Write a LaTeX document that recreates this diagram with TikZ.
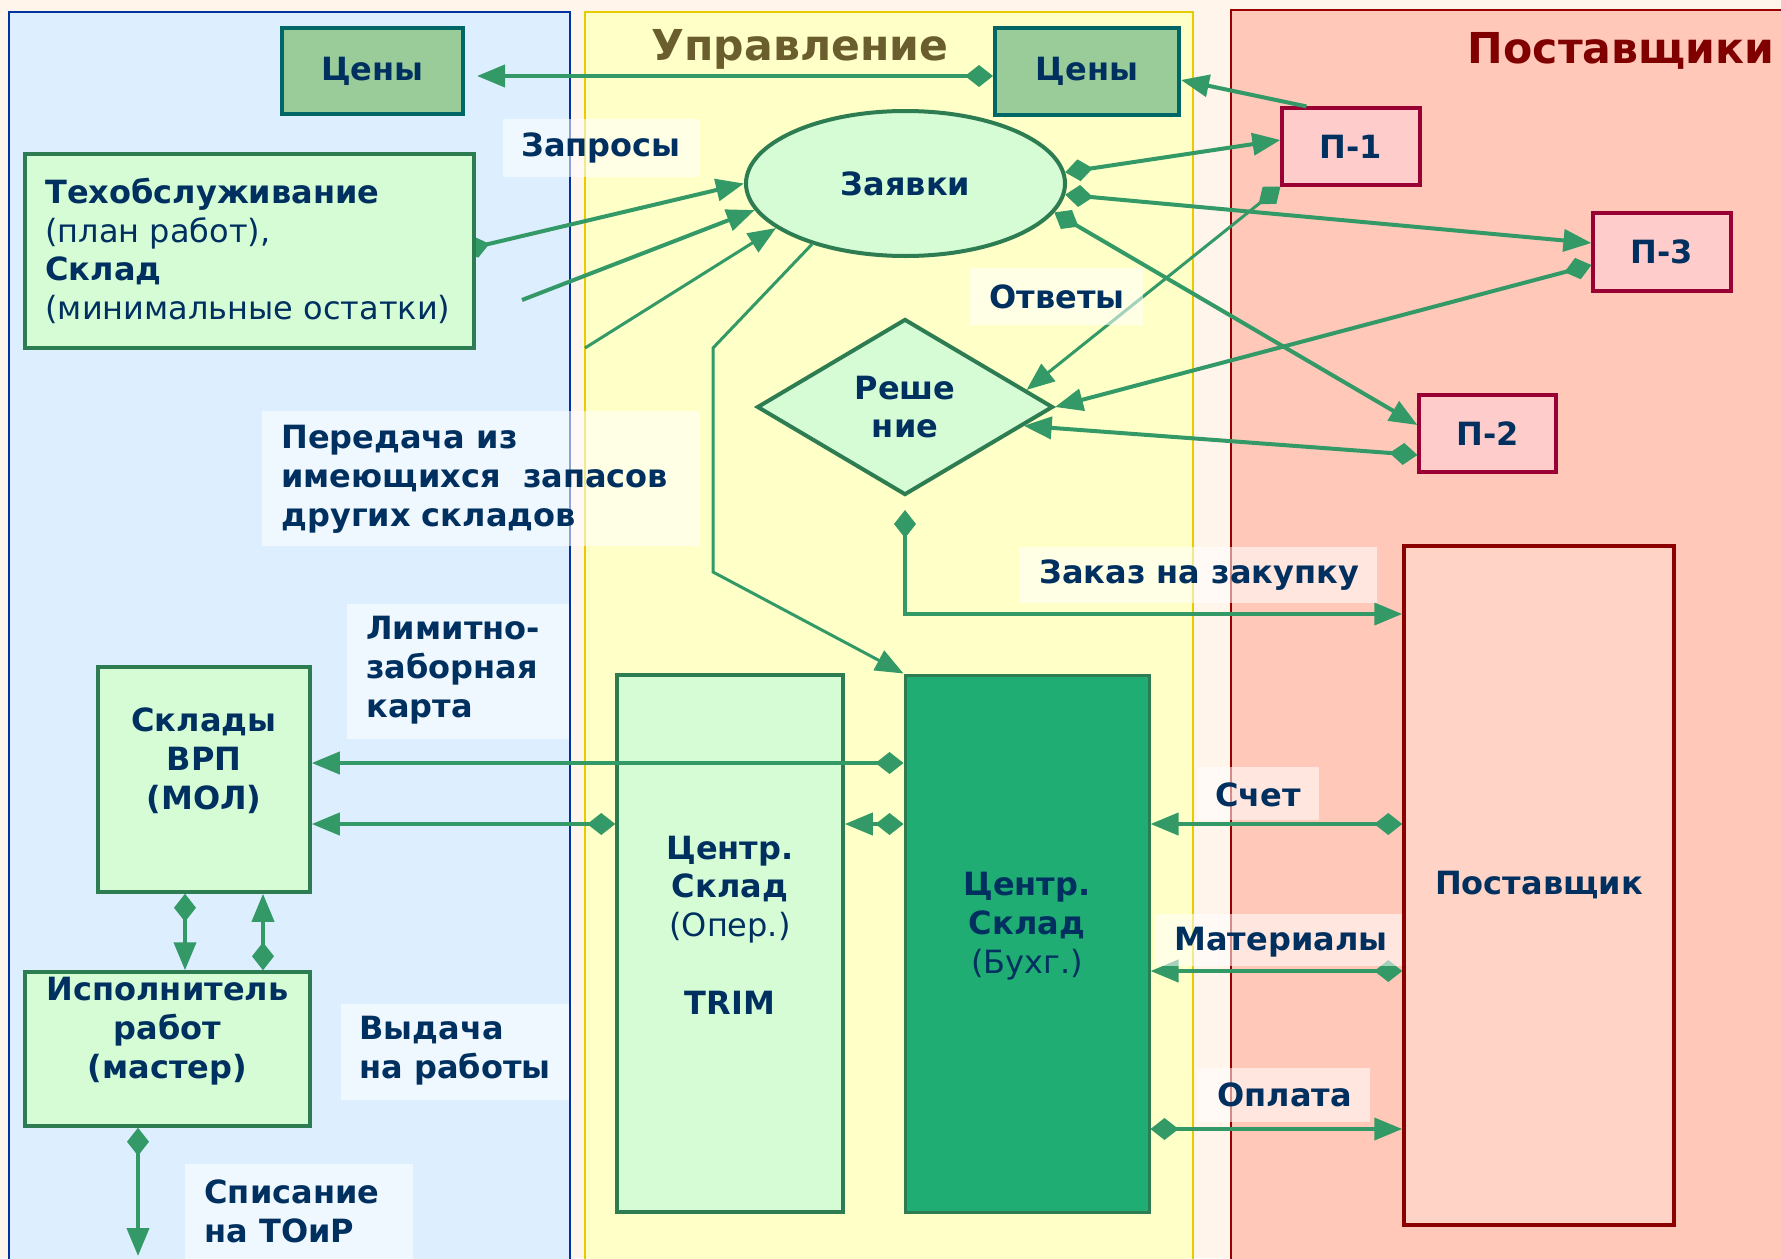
\documentclass[tikz,border=0pt]{standalone}
\usepackage{fontspec}
\setmainfont{DejaVu Sans}
\usetikzlibrary{arrows.meta,shapes.geometric}

\definecolor{page}{HTML}{FFF5EB}
\definecolor{bluepane}{HTML}{DDEEFF}
\definecolor{blueedge}{HTML}{0033A0}
\definecolor{yellowpane}{HTML}{FFFFC8}
\definecolor{yellowedge}{HTML}{E8CC00}
\definecolor{redpane}{HTML}{FFC8B8}
\definecolor{rededge}{HTML}{990000}
\definecolor{ink}{HTML}{00305F}
\definecolor{flow}{HTML}{339966}
\definecolor{mint}{HTML}{D6FCD6}
\definecolor{mintedge}{HTML}{2E7D52}
\definecolor{price}{HTML}{99CC99}
\definecolor{priceedge}{HTML}{006666}
\definecolor{pinkfill}{HTML}{FFCCCC}
\definecolor{pinkedge}{HTML}{990033}
\definecolor{store}{HTML}{1FAD73}
\definecolor{supplier}{HTML}{FFD4C6}
\definecolor{supplieredge}{HTML}{8B0000}
\definecolor{olive}{HTML}{6B5E2E}
\definecolor{maroon}{HTML}{800000}

% panels at the bottom, then hidden line ends, boxes, flows, labels on top
\pgfdeclarelayer{panels}
\pgfdeclarelayer{under}
\pgfdeclarelayer{links}
\pgfdeclarelayer{tags}
\pgfsetlayers{panels,under,main,links,tags}

\tikzset{
  every node/.style={text=ink, font=\fontsize{16}{19.4}\selectfont\bfseries},
  title/.style={font=\fontsize{21.3}{25}\selectfont\bfseries},
  mintbox/.style={draw=mintedge, line width=1.75pt, fill=mint, inner sep=0pt},
  pricebox/.style={draw=priceedge, line width=2pt, fill=price, inner sep=0pt},
  pinkbox/.style={draw=pinkedge, line width=1.6pt, fill=pinkfill, inner sep=0pt},
  tag/.style={fill=white, fill opacity=0.55, inner sep=0pt},
  tagtext/.style={anchor=west, align=left, inner sep=0pt},
  flowline/.style={draw=flow, line width=2pt},
  thinflow/.style={draw=flow, line width=1.5pt},
  hd/.tip={Triangle[length=14pt,width=11pt]},
  dia/.tip={Diamond[length=14pt,width=11pt]},
}

\begin{document}
\begin{tikzpicture}[x=0.5pt, y=-0.5pt]
\clip (0,0) rectangle (1781,1258);

% three swim lanes
\begin{pgfonlayer}{panels}
  \fill[page] (0,0) rectangle (1781,1258);
  \filldraw[fill=bluepane, draw=blueedge, line width=1.2pt] (9,12) rectangle (570,1300);
  \filldraw[fill=yellowpane, draw=yellowedge, line width=1.2pt] (585,12) rectangle (1193,1300);
  \filldraw[fill=redpane, draw=rededge, line width=1.2pt] (1231,10) rectangle (1800,1300);
\end{pgfonlayer}

% lane titles
\node[title, text=olive] (ttl-upr) at (800,49) {Управление};
\node[title, text=maroon] (ttl-post) at (1621,51) {Поставщики};

% price lists
\node[pricebox, minimum width=90.5pt, minimum height=43pt] (cenyL) at (372.5,71) {Цены};
\node[pricebox, minimum width=92pt, minimum height=43.5pt] (cenyR) at (1087,71.5) {Цены};

% requests and decision
\node[ellipse, mintbox, line width=2pt, minimum width=159.5pt, minimum height=72.5pt] (zay) at (905.5,183.5) {Заявки};
\node[diamond, mintbox, line width=2pt, minimum width=148pt, minimum height=88pt, align=center] (resh) at (905,407) {Реше\\ние};

% suppliers
\node[pinkbox, minimum width=69pt, minimum height=38.5pt] (p1) at (1351,146.5) {П-1};
\node[pinkbox, minimum width=69pt, minimum height=39pt] (p3) at (1662,252) {П-3};
\node[pinkbox, minimum width=68.5pt, minimum height=38.5pt] (p2) at (1487.5,433.5) {П-2};
\node[draw=supplieredge, line width=1.75pt, fill=supplier, minimum width=135pt, minimum height=339.5pt] (post) at (1539,885.5) {Поставщик};

% maintenance source
\node[mintbox, minimum width=224.5pt, minimum height=97pt] (tech) at (249.5,251) {};
\node[anchor=west, align=left, inner sep=0pt] (tech-t) at (45,251)
  {Техобслуживание\\{\mdseries (план работ),}\\Склад\\{\mdseries (минимальные остатки)}};

% warehouses
\node[mintbox, minimum width=106pt, minimum height=112.5pt] (vrp) at (204,779.5) {};
\node[align=center, inner sep=0pt] (vrp-t) at (204,761) {Склады\\ВРП\\(МОЛ)};
\node[mintbox, minimum width=142.5pt, minimum height=77pt] (isp) at (167.5,1049) {};
\node[align=center, inner sep=0pt] (isp-t) at (167.5,1031) {Исполнитель\\работ\\(мастер)};
\node[mintbox, minimum width=113pt, minimum height=268.5pt] (oper) at (730,943.5) {};
\node[align=center, inner sep=0pt] (oper-t) at (730,925) {Центр.\\Склад\\{\mdseries (Опер.)}\\[19.4pt]TRIM};
\node[draw=mintedge, line width=1.5pt, fill=store, minimum width=122pt, minimum height=268.5pt] (buh) at (1027,943.5) {};
\node[align=center, inner sep=0pt] (buh-t) at (1027,926) {Центр.\\Склад\\{\mdseries (Бухг.)}};

% labels on the flows
\begin{pgfonlayer}{tags}
\node[tag, anchor=north west, minimum width=98.5pt, minimum height=29pt] (lbl-req) at (503,119) {};
\node[tagtext] (lbl-req-t) at (521,148) {Запросы};
\node[tag, anchor=north west, minimum width=86.5pt, minimum height=28.5pt] (lbl-ans) at (970,268) {};
\node[tagtext] (lbl-ans-t) at (989,296.5) {Ответы};
\node[tag, anchor=north west, minimum width=219pt, minimum height=67.5pt] (lbl-trn) at (262,411) {};
\node[tagtext] (lbl-trn-t) at (281,479) {Передача из\\имеющихся\ \ запасов\\других складов};
\node[tag, anchor=north west, minimum width=111pt, minimum height=67.5pt] (lbl-lim) at (347,604) {};
\node[tagtext] (lbl-lim-t) at (366,670) {Лимитно-\\заборная\\карта};
\node[tag, anchor=north west, minimum width=179pt, minimum height=28pt] (lbl-ord) at (1019,547) {};
\node[tagtext] (lbl-ord-t) at (1039,575) {Заказ на закупку};
\node[tag, anchor=north west, minimum width=61pt, minimum height=26.5pt] (lbl-inv) at (1197,767) {};
\node[tagtext] (lbl-inv-t) at (1215,795) {Счет};
\node[tag, anchor=north west, minimum width=123.5pt, minimum height=26pt] (lbl-mat) at (1155,914) {};
\node[tagtext] (lbl-mat-t) at (1174,942) {Материалы};
\node[tag, anchor=north west, minimum width=86.5pt, minimum height=27pt] (lbl-pay) at (1197,1068) {};
\node[tagtext] (lbl-pay-t) at (1217,1095) {Оплата};
\node[tag, anchor=north west, minimum width=114pt, minimum height=48pt] (lbl-iss) at (341,1004) {};
\node[tagtext] (lbl-iss-t) at (359,1051) {Выдача\\на работы};
\node[tag, anchor=north west, minimum width=114pt, minimum height=60pt] (lbl-wo) at (185,1164) {};
\node[tagtext] (lbl-wo-t) at (204,1211.5) {Списание\\на ТОиР};
\end{pgfonlayer}

% helper levels and free ends
\coordinate (yA) at (0,76);
\coordinate (yZ) at (0,614);
\coordinate (yL1) at (0,763);
\coordinate (yL2) at (0,824);
\coordinate (yL3) at (0,971);
\coordinate (yL4) at (0,1129);
\coordinate (xL) at (185,0);
\coordinate (xR) at (263,0);
\coordinate (xD) at (138,0);
\coordinate (in-a) at (522,300);
\coordinate (in-b) at (585,348);
\coordinate (bend-a) at (713,348);
\coordinate (bend-b) at (713,572);
\coordinate (out-d) at (138,1256);

% the maintenance flow starts half under its box
\begin{pgfonlayer}{under}
  \draw[flowline, dia-hd, shorten <=-7pt] ([yshift=2pt]tech.east) -- (zay.west);
\end{pgfonlayer}

\begin{pgfonlayer}{links}
  % prices
  \draw[flowline, dia-hd, shorten >=6pt] (cenyR.west |- yA) -- (cenyL.east |- yA);
  \draw[flowline, -hd] ([xshift=13pt]p1.north west) -- ([yshift=-4.25pt]cenyR.east);
  % requests to suppliers
  \draw[flowline, dia-hd] (zay.4) -- ([yshift=3.25pt]p1.west);
  \draw[flowline, dia-hd] (zay.-4) -- ([yshift=4.5pt]p3.west);
  \draw[flowline, dia-hd] (zay.-11) -- ([yshift=4.25pt]p2.west);
  % answers to the decision
  \draw[thinflow, dia-hd] (p1.south west) -- (resh.8);
  \draw[flowline, dia-hd] ([yshift=-6.5pt]p3.west) -- (resh.east);
  \draw[flowline, dia-hd] ([yshift=-10.75pt]p2.west) -- (resh.-9);
  % inputs to the requests
  \draw[flowline, -hd] (in-a) -- (zay.190);
  \draw[thinflow, -hd] (in-b) -- (zay.199);
  \draw[thinflow, -hd] (zay.213) -- (bend-a) -- (bend-b) -- (buh.north west);
  % purchase order
  \draw[flowline, dia-hd, shorten <=6.5pt] (resh.south) |- (post.west |- yZ);
  % warehouse flows
  \draw[flowline, dia-hd] (buh.west |- yL1) -- (vrp.east |- yL1);
  \draw[flowline, dia-hd] (oper.west |- yL2) -- (vrp.east |- yL2);
  \draw[flowline, dia-hd] (buh.west |- yL2) -- (oper.east |- yL2);
  \draw[flowline, dia-hd] (post.west |- yL2) -- (buh.east |- yL2);
  \draw[flowline, dia-hd] (post.west |- yL3) -- (buh.east |- yL3);
  \draw[flowline, dia-hd] (buh.east |- yL4) -- (post.west |- yL4);
  \draw[flowline, dia-hd] (vrp.south -| xL) -- (isp.north -| xL);
  \draw[flowline, dia-hd] (isp.north -| xR) -- (vrp.south -| xR);
  \draw[flowline, dia-hd] (isp.south -| xD) -- (out-d);
\end{pgfonlayer}
\end{tikzpicture}
\end{document}
